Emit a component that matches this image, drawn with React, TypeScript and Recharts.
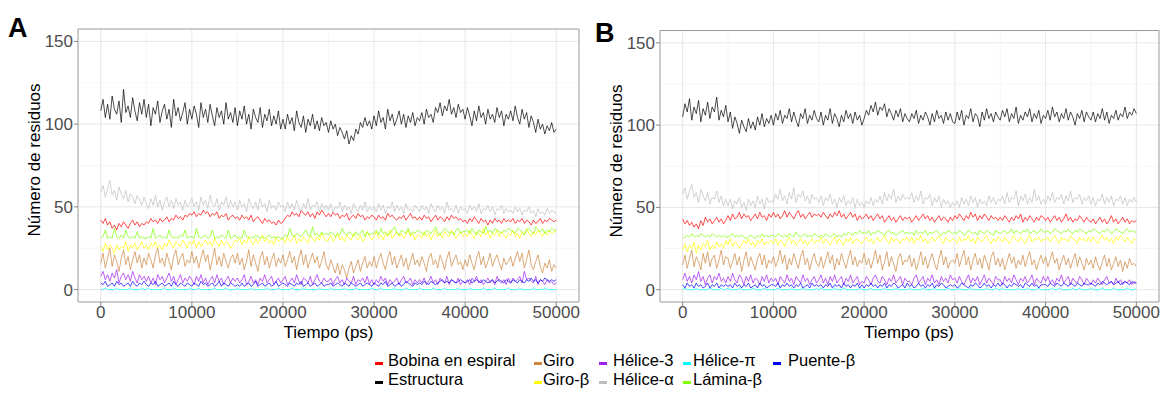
import React from 'react';
import { LineChart, Line, XAxis, YAxis, CartesianGrid, ReferenceArea } from 'recharts';

// ---------- axes ----------
const TIME_STEP_PS = 250;
const X_TICKS = [0, 10000, 20000, 30000, 40000, 50000];
const X_MINOR = [5000, 15000, 25000, 35000, 45000];
const Y_TICKS = [0, 50, 100, 150];
const Y_MINOR = [25, 75, 125];
const X_DOMAIN: [number, number] = [-2500, 52500];
const Y_DOMAIN: [number, number] = [-7.5, 157.5];

// ---------- series ----------
const SERIES = [
  { key: 'bobina', name: 'Bobina en espiral', color: '#FF0000' },
  { key: 'estructura', name: 'Estructura', color: '#000000' },
  { key: 'giro', name: 'Giro', color: '#CD853F' },
  { key: 'giroBeta', name: 'Giro-β', color: '#FFFF00' },
  { key: 'helice3', name: 'Hélice-3', color: '#A020F0' },
  { key: 'heliceAlfa', name: 'Hélice-α', color: '#BEBEBE' },
  { key: 'helicePi', name: 'Hélice-π', color: '#00FFFF' },
  { key: 'laminaBeta', name: 'Lámina-β', color: '#7FFF00' },
  { key: 'puenteBeta', name: 'Puente-β', color: '#0000FF' },
];

// ---------- panel A values (one value every 250 ps, 20 per 5000 ps row) ----------
const A_ESTRUCTURA = [
  108, 115, 104, 112, 103, 117, 109, 106, 114, 101, 121, 107, 111, 104, 116, 108, 102, 113, 106, 115,
  104, 112, 99, 110, 106, 114, 101, 108, 112, 103, 109, 98, 115, 105, 110, 102, 107, 113, 100, 109,
  103, 111, 106, 98, 113, 104, 109, 101, 112, 105, 99, 110, 104, 108, 100, 113, 103, 107, 101, 110,
  99, 108, 103, 111, 100, 106, 97, 109, 104, 101, 110, 98, 106, 102, 109, 99, 105, 100, 108, 97,
  103, 97, 106, 100, 104, 96, 108, 101, 98, 105, 95, 103, 99, 106, 97, 102, 96, 104, 99, 101,
  95, 102, 97, 100, 93, 98, 95, 91, 96, 88, 93, 90, 97, 94, 101, 98, 104, 99, 102, 97,
  105, 99, 108, 101, 104, 97, 109, 102, 106, 99, 103, 108, 100, 106, 98, 105, 101, 107, 99, 104,
  102, 107, 100, 109, 104, 106, 101, 110, 107, 113, 105, 111, 108, 115, 106, 110, 104, 112, 107, 109,
  103, 110, 105, 99, 108, 102, 111, 104, 107, 100, 109, 103, 106, 101, 110, 104, 108, 99, 106, 103,
  108, 102, 111, 104, 100, 109, 103, 107, 98, 105, 101, 95, 103, 97, 100, 94, 99, 96, 101, 95,
  97,
];
const A_HELICE_ALFA = [
  59, 63, 56, 61, 66, 57, 60, 54, 62, 58, 55, 60, 53, 58, 56, 52, 57, 54, 51, 56,
  52, 49, 55, 51, 57, 50, 54, 48, 53, 56, 50, 54, 49, 55, 51, 53, 48, 54, 50, 52,
  55, 50, 53, 48, 56, 51, 54, 49, 57, 52, 50, 55, 48, 53, 51, 56, 49, 54, 50, 53,
  48, 54, 50, 52, 47, 55, 51, 49, 53, 48, 55, 50, 52, 47, 54, 49, 51, 48, 53, 50,
  51, 47, 53, 49, 52, 48, 54, 50, 47, 52, 49, 55, 48, 51, 50, 53, 47, 52, 49, 51,
  48, 52, 46, 50, 49, 53, 47, 51, 48, 50, 46, 52, 49, 47, 51, 48, 53, 47, 50, 48,
  50, 47, 52, 48, 51, 46, 50, 49, 53, 47, 51, 48, 50, 46, 52, 48, 49, 47, 51, 49,
  47, 51, 48, 50, 46, 52, 49, 47, 51, 48, 50, 46, 53, 48, 49, 47, 51, 46, 50, 48,
  49, 46, 51, 48, 50, 47, 52, 46, 49, 48, 51, 47, 50, 45, 49, 48, 51, 46, 49, 47,
  48, 46, 50, 47, 49, 45, 48, 47, 50, 46, 48, 44, 49, 46, 47, 45, 49, 46, 48, 47,
  46,
];
const A_BOBINA = [
  42, 40, 43, 39, 41, 37, 39, 36, 40, 38, 41, 39, 37, 40, 42, 39, 41, 38, 40, 39,
  41, 40, 43, 41, 42, 40, 43, 41, 42, 44, 41, 43, 42, 45, 43, 44, 42, 45, 44, 46,
  45, 47, 44, 46, 45, 48, 46, 47, 44, 46, 45, 47, 43, 45, 44, 46, 42, 44, 45, 43,
  44, 42, 45, 43, 44, 42, 45, 41, 43, 44, 42, 40, 43, 41, 42, 40, 41, 39, 42, 40,
  41, 43, 45, 44, 47, 45, 46, 44, 48, 46, 45, 47, 44, 46, 43, 47, 45, 48, 46, 44,
  46, 44, 47, 45, 46, 43, 45, 44, 46, 42, 44, 45, 43, 46, 44, 45, 42, 44, 43, 45,
  44, 42, 45, 43, 44, 42, 46, 44, 45, 43, 42, 44, 43, 45, 42, 44, 46, 43, 44, 42,
  44, 42, 45, 43, 44, 41, 43, 45, 42, 44, 43, 41, 44, 42, 45, 43, 44, 42, 43, 41,
  42, 40, 43, 41, 44, 42, 40, 43, 41, 42, 39, 42, 40, 43, 41, 42, 40, 43, 41, 42,
  41, 43, 40, 42, 41, 43, 40, 42, 41, 39, 42, 40, 41, 43, 40, 42, 41, 43, 42, 41,
  42,
];
const A_LAMINA_BETA = [
  31, 32, 36, 31, 32, 31, 37, 32, 31, 33, 31, 36, 32, 31, 32, 31, 35, 31, 32, 31,
  31, 32, 31, 37, 31, 32, 33, 31, 32, 31, 36, 32, 31, 32, 31, 33, 32, 36, 31, 32,
  32, 31, 37, 32, 31, 32, 33, 31, 32, 36, 31, 32, 31, 33, 32, 31, 36, 31, 32, 33,
  31, 32, 31, 36, 32, 31, 32, 31, 33, 32, 31, 32, 31, 32, 33, 31, 32, 31, 32, 31,
  31, 33, 32, 37, 33, 32, 34, 33, 32, 34, 36, 33, 32, 38, 33, 34, 32, 35, 33, 34,
  33, 35, 34, 32, 34, 33, 37, 34, 33, 35, 34, 32, 35, 33, 34, 36, 32, 35, 33, 34,
  34, 36, 33, 37, 34, 35, 33, 34, 36, 38, 34, 33, 36, 35, 34, 37, 33, 35, 34, 36,
  35, 34, 33, 36, 35, 34, 36, 38, 34, 33, 35, 37, 36, 34, 35, 33, 36, 37, 34, 35,
  35, 36, 34, 37, 35, 33, 36, 35, 34, 38, 35, 36, 34, 37, 36, 35, 34, 36, 35, 37,
  36, 35, 34, 37, 36, 35, 33, 36, 37, 35, 34, 38, 36, 35, 37, 34, 36, 35, 37, 36,
  36,
];
const A_GIRO_BETA = [
  26, 23, 28, 24, 27, 25, 22, 27, 24, 26, 25, 29, 23, 27, 25, 28, 24, 26, 29, 25,
  27, 24, 28, 26, 29, 25, 27, 24, 28, 26, 30, 27, 25, 29, 27, 26, 30, 28, 25, 29,
  27, 30, 25, 29, 26, 28, 30, 27, 29, 26, 31, 28, 26, 30, 27, 29, 28, 25, 27, 30,
  29, 31, 27, 30, 28, 32, 29, 27, 31, 28, 30, 33, 29, 31, 28, 30, 27, 32, 29, 30,
  31, 28, 32, 29, 30, 33, 28, 31, 29, 32, 30, 28, 33, 31, 29, 32, 30, 34, 31, 29,
  30, 33, 29, 31, 34, 30, 32, 29, 33, 31, 30, 34, 32, 30, 33, 29, 31, 35, 32, 30,
  32, 35, 31, 33, 30, 34, 32, 36, 31, 33, 35, 32, 34, 31, 33, 36, 32, 34, 30, 33,
  33, 31, 35, 32, 34, 30, 33, 36, 32, 34, 31, 35, 33, 32, 36, 34, 31, 33, 35, 32,
  34, 32, 36, 33, 31, 35, 34, 32, 37, 33, 35, 31, 34, 33, 36, 32, 35, 33, 31, 34,
  33, 36, 32, 34, 31, 35, 33, 37, 34, 32, 35, 33, 36, 34, 32, 35, 33, 36, 34, 35,
  35,
];
const A_GIRO = [
  16, 22, 13, 19, 25, 14, 21, 17, 11, 19, 24, 15, 20, 12, 18, 23, 16, 21, 13, 19,
  15, 22, 18, 13, 21, 25, 16, 19, 14, 22, 17, 12, 20, 24, 15, 19, 22, 14, 18, 16,
  23, 16, 20, 13, 19, 24, 17, 21, 12, 18, 25, 15, 20, 14, 22, 17, 13, 19, 21, 16,
  22, 15, 19, 12, 17, 24, 14, 21, 16, 11, 19, 23, 15, 20, 13, 18, 22, 14, 19, 16,
  21, 14, 18, 23, 16, 20, 12, 19, 24, 15, 21, 13, 18, 22, 16, 20, 13, 17, 23, 15,
  12, 18, 14, 10, 16, 9, 15, 12, 7, 13, 17, 10, 14, 18, 11, 16, 20, 13, 17, 14,
  20, 13, 18, 22, 16, 12, 19, 23, 15, 20, 13, 17, 21, 14, 19, 12, 17, 22, 15, 18,
  14, 20, 16, 11, 19, 22, 15, 18, 13, 21, 17, 12, 19, 23, 14, 18, 21, 15, 17, 12,
  18, 14, 21, 16, 12, 19, 23, 15, 20, 13, 17, 22, 14, 18, 21, 16, 12, 19, 15, 17,
  20, 14, 19, 23, 17, 22, 13, 18, 24, 15, 12, 17, 21, 14, 10, 16, 13, 18, 11, 15,
  13,
];
const A_HELICE_3 = [
  8, 11, 6, 9, 5, 10, 7, 12, 4, 8, 10, 6, 9, 5, 11, 7, 4, 9, 6, 8,
  5, 8, 4, 7, 3, 9, 6, 8, 4, 7, 10, 5, 8, 3, 6, 9, 4, 7, 5, 8,
  6, 3, 8, 5, 9, 4, 7, 3, 6, 8, 4, 9, 5, 7, 3, 6, 8, 4, 7, 5,
  7, 4, 6, 9, 3, 5, 8, 4, 6, 3, 7, 5, 9, 4, 6, 8, 3, 5, 7, 4,
  6, 8, 3, 5, 7, 4, 9, 5, 3, 7, 6, 4, 8, 3, 6, 9, 5, 4, 7, 5,
  5, 7, 3, 6, 8, 4, 6, 3, 7, 5, 4, 8, 3, 6, 5, 7, 4, 8, 3, 6,
  3, 6, 4, 8, 5, 7, 3, 6, 4, 5, 7, 3, 6, 8, 4, 5, 7, 3, 6, 4,
  6, 4, 7, 3, 5, 8, 4, 6, 3, 7, 5, 4, 8, 3, 6, 5, 4, 7, 3, 5,
  4, 6, 3, 7, 5, 8, 4, 6, 3, 5, 7, 4, 6, 3, 8, 5, 4, 6, 3, 7,
  4, 7, 5, 6, 8, 4, 11, 6, 7, 5, 4, 8, 3, 6, 5, 3, 6, 4, 5, 3,
  4,
];
const A_PUENTE_BETA = [
  4, 3, 5, 2, 3, 4, 2, 5, 3, 4, 2, 3, 4, 2, 5, 3, 2, 4, 3, 5,
  3, 2, 4, 3, 5, 2, 3, 4, 2, 3, 4, 2, 5, 3, 2, 4, 3, 2, 4, 3,
  2, 4, 3, 2, 5, 3, 4, 2, 3, 4, 2, 3, 5, 2, 4, 3, 2, 4, 3, 2,
  3, 2, 4, 2, 3, 4, 2, 3, 5, 2, 3, 4, 2, 3, 4, 2, 3, 5, 2, 3,
  4, 3, 2, 4, 3, 2, 4, 3, 5, 2, 3, 4, 2, 3, 4, 2, 3, 4, 2, 3,
  3, 4, 2, 3, 4, 3, 2, 4, 3, 2, 4, 3, 2, 3, 4, 2, 3, 4, 3, 2,
  4, 3, 2, 4, 3, 5, 2, 3, 4, 2, 3, 4, 2, 3, 5, 4, 3, 2, 4, 3,
  4, 3, 5, 4, 3, 5, 4, 3, 4, 5, 6, 4, 5, 4, 6, 5, 4, 5, 6, 5,
  4, 5, 6, 4, 5, 6, 5, 4, 6, 5, 4, 5, 6, 4, 5, 6, 5, 4, 6, 5,
  4, 6, 5, 4, 6, 5, 4, 6, 5, 7, 5, 6, 4, 6, 5, 7, 6, 5, 6, 5,
  6,
];
const A_HELICE_PI = [
  0, 0, 1, 0, 0, 0, 0, 1, 0, 0, 0, 0, 0, 1, 0, 0, 0, 0, 1, 0,
  0, 1, 0, 0, 0, 0, 0, 0, 1, 0, 0, 0, 1, 0, 0, 0, 0, 0, 0, 1,
  0, 0, 0, 1, 0, 0, 0, 0, 0, 0, 1, 0, 0, 0, 0, 1, 0, 0, 0, 0,
  1, 0, 0, 0, 0, 0, 1, 0, 0, 0, 0, 0, 0, 1, 0, 0, 0, 0, 1, 0,
  0, 0, 0, 0, 1, 0, 0, 0, 0, 1, 0, 0, 0, 0, 0, 0, 1, 0, 0, 0,
  0, 1, 0, 0, 0, 0, 0, 1, 0, 0, 0, 0, 1, 0, 0, 0, 0, 0, 0, 1,
  0, 0, 0, 1, 0, 0, 0, 0, 0, 1, 0, 0, 0, 0, 1, 0, 0, 0, 0, 0,
  1, 0, 0, 0, 0, 0, 1, 0, 0, 0, 0, 1, 0, 0, 0, 0, 0, 1, 0, 0,
  0, 0, 1, 0, 0, 0, 0, 0, 1, 0, 0, 0, 0, 1, 0, 0, 0, 0, 0, 1,
  0, 0, 0, 0, 1, 0, 0, 0, 0, 0, 1, 0, 0, 0, 0, 1, 0, 0, 0, 0,
  0,
];

// ---------- panel B values (one value every 250 ps, 20 per 5000 ps row) ----------
const B_ESTRUCTURA = [
  105, 113, 108, 116, 103, 111, 107, 115, 102, 110, 106, 114, 104, 111, 108, 117, 103, 109, 105, 112,
  102, 108, 98, 105, 101, 95, 103, 99, 96, 104, 98, 102, 97, 105, 100, 107, 99, 104, 101, 106,
  100, 107, 103, 109, 101, 106, 104, 110, 102, 108, 103, 99, 107, 104, 110, 101, 106, 103, 109, 104,
  102, 108, 100, 106, 103, 110, 101, 107, 104, 99, 106, 102, 109, 104, 107, 101, 108, 103, 106, 100,
  104, 109, 106, 112, 108, 114, 106, 111, 109, 113, 105, 110, 107, 103, 109, 105, 110, 102, 107, 104,
  102, 107, 104, 109, 101, 106, 103, 108, 105, 100, 107, 102, 109, 104, 106, 101, 108, 103, 107, 102,
  101, 108, 103, 109, 100, 106, 104, 110, 102, 107, 105, 99, 108, 103, 110, 104, 107, 102, 108, 105,
  103, 109, 105, 110, 102, 107, 104, 111, 101, 106, 103, 108, 105, 110, 102, 107, 104, 109, 101, 106,
  104, 109, 103, 111, 105, 108, 102, 107, 104, 110, 103, 108, 105, 100, 107, 104, 109, 102, 108, 105,
  103, 108, 102, 107, 104, 110, 103, 108, 101, 106, 104, 109, 103, 107, 105, 111, 104, 108, 106, 110,
  107,
];
const B_HELICE_ALFA = [
  58, 62, 55, 60, 64, 56, 59, 53, 61, 57, 54, 59, 52, 56, 55, 60, 53, 57, 51, 55,
  51, 55, 49, 54, 52, 56, 50, 53, 48, 55, 51, 54, 50, 57, 52, 55, 49, 56, 53, 54,
  53, 58, 55, 61, 54, 57, 52, 59, 55, 62, 53, 58, 56, 60, 54, 57, 52, 58, 55, 56,
  53, 57, 51, 56, 54, 58, 52, 55, 50, 56, 53, 57, 51, 54, 52, 56, 50, 55, 51, 53,
  50, 54, 52, 56, 51, 55, 53, 57, 52, 59, 54, 58, 55, 61, 53, 57, 54, 58, 55, 56,
  55, 59, 53, 57, 54, 60, 52, 56, 55, 58, 51, 56, 53, 57, 50, 55, 52, 54, 50, 53,
  51, 54, 50, 56, 52, 55, 51, 57, 53, 56, 50, 55, 52, 54, 51, 57, 53, 56, 52, 55,
  54, 57, 52, 59, 53, 56, 55, 60, 51, 57, 54, 58, 52, 56, 53, 61, 54, 57, 52, 55,
  52, 57, 54, 59, 53, 56, 55, 58, 52, 57, 54, 60, 53, 56, 55, 58, 52, 56, 54, 57,
  52, 56, 51, 55, 54, 58, 52, 56, 53, 57, 51, 55, 54, 57, 52, 56, 51, 55, 53, 56,
  53,
];
const B_BOBINA = [
  43, 40, 42, 39, 41, 38, 40, 37, 42, 39, 44, 41, 43, 40, 42, 44, 41, 43, 40, 42,
  45, 42, 46, 43, 44, 47, 43, 46, 44, 45, 42, 44, 46, 43, 47, 44, 45, 42, 46, 44,
  47, 44, 46, 43, 45, 48, 44, 47, 45, 43, 46, 48, 44, 46, 43, 45, 47, 44, 46, 45,
  46, 44, 47, 45, 43, 46, 44, 47, 45, 48, 44, 46, 43, 45, 47, 44, 46, 42, 45, 43,
  44, 46, 43, 45, 42, 44, 46, 43, 45, 41, 43, 45, 42, 44, 41, 43, 45, 42, 44, 43,
  44, 41, 43, 45, 42, 44, 46, 43, 45, 42, 44, 41, 43, 45, 42, 44, 43, 41, 44, 42,
  45, 43, 46, 44, 42, 45, 43, 47, 44, 46, 42, 45, 43, 46, 44, 42, 45, 43, 44, 42,
  44, 42, 45, 43, 41, 44, 42, 45, 43, 46, 41, 44, 42, 45, 43, 41, 44, 42, 45, 44,
  42, 44, 41, 43, 45, 42, 44, 41, 43, 46, 42, 44, 41, 43, 42, 45, 43, 41, 44, 42,
  41, 43, 40, 42, 44, 41, 43, 40, 42, 45, 41, 43, 40, 42, 44, 41, 43, 40, 42, 41,
  42,
];
const B_LAMINA_BETA = [
  31, 32, 33, 32, 34, 32, 33, 32, 34, 33, 32, 33, 32, 34, 33, 32, 33, 32, 33, 32,
  32, 33, 34, 32, 33, 32, 33, 32, 31, 32, 33, 32, 31, 33, 32, 34, 32, 33, 32, 33,
  33, 32, 34, 33, 32, 33, 32, 34, 33, 32, 35, 33, 32, 33, 34, 32, 33, 32, 34, 33,
  32, 33, 32, 34, 33, 32, 33, 34, 32, 33, 32, 34, 33, 35, 34, 33, 35, 34, 36, 34,
  35, 34, 36, 33, 35, 34, 36, 35, 34, 33, 35, 36, 34, 35, 33, 34, 35, 36, 34, 35,
  34, 35, 33, 36, 34, 35, 34, 36, 33, 35, 34, 35, 36, 34, 33, 35, 34, 36, 35, 34,
  35, 34, 36, 35, 33, 34, 36, 35, 34, 35, 33, 36, 35, 34, 36, 35, 34, 33, 36, 35,
  34, 35, 36, 34, 35, 37, 34, 36, 35, 34, 36, 35, 37, 34, 35, 36, 34, 35, 37, 35,
  35, 36, 34, 35, 37, 36, 35, 34, 36, 35, 37, 35, 34, 36, 35, 37, 36, 35, 34, 36,
  35, 37, 36, 35, 34, 36, 35, 37, 36, 34, 35, 37, 36, 35, 34, 36, 37, 35, 36, 35,
  35,
];
const B_GIRO_BETA = [
  24, 28, 23, 27, 25, 29, 22, 27, 24, 28, 26, 30, 24, 27, 25, 29, 26, 28, 25, 30,
  27, 31, 26, 29, 28, 25, 27, 30, 28, 31, 27, 29, 26, 30, 28, 31, 27, 29, 28, 30,
  28, 31, 27, 30, 29, 26, 30, 32, 28, 30, 27, 29, 31, 28, 30, 27, 29, 31, 28, 30,
  29, 32, 28, 31, 29, 27, 30, 32, 28, 31, 29, 27, 31, 29, 32, 28, 30, 31, 29, 28,
  30, 32, 29, 31, 28, 30, 32, 29, 31, 33, 30, 28, 32, 29, 31, 30, 28, 31, 30, 32,
  29, 32, 28, 31, 30, 33, 29, 31, 28, 30, 32, 29, 31, 33, 30, 28, 32, 30, 29, 31,
  30, 28, 32, 29, 31, 30, 33, 29, 31, 28, 32, 30, 29, 31, 33, 30, 28, 31, 29, 32,
  31, 29, 32, 30, 28, 31, 33, 30, 29, 32, 30, 28, 31, 33, 29, 31, 30, 32, 29, 31,
  30, 32, 29, 31, 33, 30, 28, 32, 30, 31, 29, 33, 31, 30, 28, 32, 30, 31, 29, 32,
  29, 32, 30, 28, 31, 33, 30, 32, 29, 31, 28, 32, 30, 33, 31, 29, 32, 30, 28, 31,
  30,
];
const B_GIRO = [
  15, 21, 13, 19, 24, 14, 20, 17, 12, 22, 16, 23, 14, 19, 21, 13, 18, 24, 15, 20,
  19, 13, 17, 22, 15, 20, 11, 18, 23, 14, 20, 16, 12, 19, 22, 15, 21, 13, 18, 16,
  20, 14, 18, 24, 16, 21, 12, 19, 15, 22, 17, 13, 20, 24, 15, 19, 12, 18, 22, 16,
  14, 20, 13, 18, 23, 16, 21, 12, 19, 15, 22, 17, 13, 19, 24, 15, 20, 14, 18, 16,
  22, 15, 19, 13, 18, 24, 16, 21, 12, 17, 23, 14, 20, 16, 11, 19, 22, 15, 18, 17,
  21, 14, 19, 12, 17, 23, 15, 20, 13, 18, 22, 16, 12, 19, 24, 15, 20, 13, 17, 18,
  16, 22, 14, 19, 24, 15, 20, 12, 18, 22, 15, 19, 13, 21, 17, 12, 20, 23, 15, 19,
  14, 19, 12, 17, 22, 16, 20, 13, 18, 15, 21, 14, 19, 23, 15, 18, 12, 17, 21, 16,
  20, 14, 18, 23, 16, 19, 12, 17, 21, 15, 19, 13, 18, 22, 14, 20, 16, 12, 19, 15,
  18, 13, 20, 15, 12, 17, 21, 14, 19, 12, 16, 20, 14, 18, 11, 17, 13, 19, 15, 16,
  14,
];
const B_HELICE_3 = [
  6, 10, 5, 8, 4, 9, 6, 11, 5, 8, 3, 7, 9, 4, 8, 6, 10, 5, 7, 4,
  8, 5, 10, 6, 4, 9, 7, 3, 8, 5, 9, 4, 7, 6, 3, 8, 5, 9, 4, 7,
  5, 7, 3, 8, 6, 4, 9, 5, 7, 3, 8, 6, 4, 9, 5, 7, 3, 6, 8, 4,
  6, 9, 4, 7, 3, 8, 5, 9, 4, 6, 8, 3, 7, 5, 9, 4, 6, 8, 3, 5,
  4, 8, 6, 3, 7, 9, 5, 4, 8, 6, 3, 7, 5, 9, 4, 6, 8, 3, 7, 5,
  5, 3, 7, 9, 4, 6, 8, 3, 7, 5, 9, 4, 6, 3, 8, 5, 7, 4, 9, 6,
  7, 4, 8, 5, 3, 6, 9, 4, 7, 5, 8, 3, 6, 9, 4, 7, 5, 3, 8, 6,
  6, 3, 8, 5, 7, 4, 9, 6, 3, 7, 5, 8, 4, 6, 9, 3, 7, 5, 4, 8,
  5, 8, 4, 6, 3, 7, 5, 9, 4, 6, 8, 3, 7, 5, 4, 8, 6, 3, 7, 5,
  3, 6, 4, 7, 5, 3, 6, 8, 4, 5, 3, 7, 4, 6, 3, 5, 4, 6, 3, 5,
  4,
];
const B_PUENTE_BETA = [
  3, 1, 4, 2, 3, 1, 4, 2, 3, 1, 2, 4, 1, 3, 2, 4, 1, 3, 2, 3,
  2, 3, 1, 4, 2, 3, 1, 3, 2, 4, 1, 2, 3, 1, 4, 2, 3, 1, 2, 3,
  3, 2, 4, 1, 3, 2, 4, 2, 3, 1, 3, 2, 4, 1, 2, 3, 1, 4, 2, 3,
  2, 3, 1, 3, 2, 4, 1, 3, 2, 3, 1, 4, 2, 3, 1, 3, 2, 4, 1, 3,
  1, 3, 2, 4, 2, 3, 1, 3, 2, 4, 1, 3, 2, 4, 3, 1, 2, 3, 1, 4,
  2, 3, 1, 2, 4, 2, 3, 1, 3, 2, 4, 1, 3, 2, 4, 3, 1, 2, 3, 2,
  3, 1, 2, 4, 3, 2, 1, 3, 2, 4, 3, 1, 2, 4, 2, 3, 1, 3, 2, 4,
  2, 4, 3, 1, 3, 2, 4, 3, 2, 3, 1, 4, 3, 2, 4, 2, 3, 1, 3, 3,
  3, 2, 4, 3, 2, 4, 3, 2, 4, 3, 2, 4, 3, 2, 4, 3, 2, 4, 3, 3,
  4, 3, 2, 4, 3, 5, 4, 3, 4, 5, 3, 4, 5, 3, 4, 5, 4, 3, 5, 4,
  4,
];
const B_HELICE_PI = [
  0, 1, 0, 0, 0, 0, 1, 0, 0, 0, 0, 0, 1, 0, 0, 0, 0, 1, 0, 0,
  1, 0, 0, 0, 0, 1, 0, 0, 0, 0, 0, 1, 0, 0, 0, 0, 1, 0, 0, 0,
  0, 0, 1, 0, 0, 0, 0, 0, 1, 0, 0, 0, 0, 1, 0, 0, 0, 0, 0, 1,
  0, 1, 0, 0, 0, 0, 0, 1, 0, 0, 0, 1, 0, 0, 0, 0, 0, 0, 1, 0,
  0, 0, 0, 1, 0, 0, 0, 0, 0, 1, 0, 0, 0, 0, 1, 0, 0, 0, 0, 0,
  1, 0, 0, 0, 0, 0, 1, 0, 0, 0, 0, 1, 0, 0, 0, 0, 0, 1, 0, 0,
  0, 0, 1, 0, 0, 0, 0, 1, 0, 0, 0, 0, 0, 0, 1, 0, 0, 0, 1, 0,
  0, 1, 0, 0, 0, 0, 0, 0, 1, 0, 0, 0, 1, 0, 0, 0, 0, 1, 0, 0,
  0, 0, 0, 1, 0, 0, 1, 0, 0, 0, 0, 0, 1, 0, 0, 1, 0, 0, 0, 0,
  1, 0, 0, 0, 0, 1, 0, 0, 0, 0, 1, 0, 0, 0, 0, 0, 1, 0, 0, 0,
  1,
];

const PANEL_A_COLS: Record<string, number[]> = {
  bobina: A_BOBINA, estructura: A_ESTRUCTURA, giro: A_GIRO, giroBeta: A_GIRO_BETA,
  helice3: A_HELICE_3, heliceAlfa: A_HELICE_ALFA, helicePi: A_HELICE_PI,
  laminaBeta: A_LAMINA_BETA, puenteBeta: A_PUENTE_BETA,
};
const PANEL_B_COLS: Record<string, number[]> = {
  bobina: B_BOBINA, estructura: B_ESTRUCTURA, giro: B_GIRO, giroBeta: B_GIRO_BETA,
  helice3: B_HELICE_3, heliceAlfa: B_HELICE_ALFA, helicePi: B_HELICE_PI,
  laminaBeta: B_LAMINA_BETA, puenteBeta: B_PUENTE_BETA,
};

function buildRows(cols: Record<string, number[]>) {
  const n = cols.estructura.length;
  const rows: any[] = [];
  for (let i = 0; i < n; i++) {
    const row: any = { t: i * TIME_STEP_PS };
    for (const s of SERIES) row[s.key] = cols[s.key][i];
    rows.push(row);
  }
  return rows;
}

const DATA_A = buildRows(PANEL_A_COLS);
const DATA_B = buildRows(PANEL_B_COLS);

const FONT = '"Liberation Sans", Arial, Helvetica, sans-serif';
const TICK_STYLE = { fill: '#4d4d4d', fontSize: 17, fontFamily: FONT };

function Panel({ data, width, height, margin }: { data: any[]; width: number; height: number; margin: any }) {
  return (
    <LineChart width={width} height={height} data={data} margin={margin}>
      <CartesianGrid horizontalValues={Y_MINOR} verticalValues={X_MINOR} stroke="#f3f3f3" strokeWidth={0.7} />
      <CartesianGrid horizontalValues={Y_TICKS} verticalValues={X_TICKS} stroke="#e6e6e6" strokeWidth={1} />
      <XAxis
        dataKey="t"
        type="number"
        domain={X_DOMAIN}
        ticks={X_TICKS}
        allowDataOverflow
        axisLine={false}
        tickLine={{ stroke: '#888888' }}
        tickSize={4}
        tickMargin={0}
        height={30}
        tick={TICK_STYLE}
        interval={0}
      />
      <YAxis
        type="number"
        domain={Y_DOMAIN}
        ticks={Y_TICKS}
        allowDataOverflow
        axisLine={false}
        tickLine={{ stroke: '#888888' }}
        tickSize={4}
        tickMargin={1}
        width={40}
        tick={TICK_STYLE}
        interval={0}
      />
      {SERIES.map((s) => (
        <Line
          key={s.key}
          type="linear"
          dataKey={s.key}
          name={s.name}
          stroke={s.color}
          strokeWidth={0.7}
          dot={false}
          activeDot={false}
          isAnimationActive={false}
        />
      ))}
      <ReferenceArea
        x1={X_DOMAIN[0]}
        x2={X_DOMAIN[1]}
        y1={Y_DOMAIN[0]}
        y2={Y_DOMAIN[1]}
        fill="none"
        stroke="#999999"
        strokeWidth={1}
        ifOverflow="visible"
      />
    </LineChart>
  );
}

// legend layout: two rows, filled column by column
const LEGEND_COLS = [
  { keyX: 375, textX: 388 },
  { keyX: 534, textX: 543 },
  { keyX: 599, textX: 613 },
  { keyX: 683, textX: 693 },
  { keyX: 773, textX: 788 },
];
const LEGEND_ROW_BASELINES = [366, 385];
const LEGEND_FONT_SIZE = 16.5;

export default function App() {
  return (
    <div
      style={{
        position: 'fixed',
        left: 0,
        top: 0,
        width: 1165,
        height: 394,
        background: '#ffffff',
        fontFamily: FONT,
        overflow: 'hidden',
      }}
    >
      <div style={{ position: 'absolute', left: 0, top: 0 }}>
        <Panel data={DATA_A} width={590} height={345} margin={{ top: 29, right: 11, bottom: 13, left: 38 }} />
      </div>
      <div style={{ position: 'absolute', left: 582, top: 0 }}>
        <Panel data={DATA_B} width={583} height={345} margin={{ top: 30.5, right: 6, bottom: 13, left: 38 }} />
      </div>
      <svg
        width={1165}
        height={394}
        style={{ position: 'absolute', left: 0, top: 0, pointerEvents: 'none' }}
        fontFamily={FONT}
      >
        <text x={8} y={37} fontSize={27} fontWeight="bold" fill="#000">A</text>
        <text x={595} y={42} fontSize={27} fontWeight="bold" fill="#000">B</text>

        <text transform="translate(40,160) rotate(-90)" textAnchor="middle" fontSize={17} fill="#000">Número de residuos</text>
        <text transform="translate(621.5,161) rotate(-90)" textAnchor="middle" fontSize={17} fill="#000">Número de residuos</text>

        <text x={328.5} y={337.5} textAnchor="middle" fontSize={17} fill="#000">Tiempo (ps)</text>
        <text x={909} y={337.5} textAnchor="middle" fontSize={17} fill="#000">Tiempo (ps)</text>

        {SERIES.map((s, i) => {
          const col = LEGEND_COLS[Math.floor(i / 2)];
          const base = LEGEND_ROW_BASELINES[i % 2];
          return (
            <g key={s.key}>
              <rect x={col.keyX} y={base - 4} width={8} height={3} fill={s.color} />
              <text x={col.textX} y={base} fontSize={LEGEND_FONT_SIZE} fill="#000">{s.name}</text>
            </g>
          );
        })}
      </svg>
    </div>
  );
}
